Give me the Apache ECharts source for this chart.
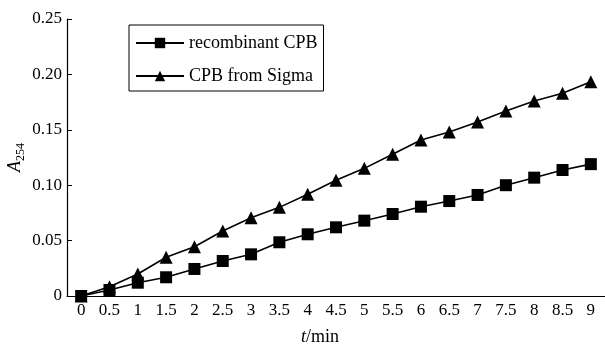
<!DOCTYPE html>
<html>
<head>
<meta charset="utf-8">
<script src="https://cdn.jsdelivr.net/npm/echarts@6/dist/echarts.min.js"></script>
<style>html,body{margin:0;padding:0;background:#fff;}#c{width:605px;height:344px;}</style>
</head>
<body>
<div id="c"></div>
<script>
const categories = ['0','0.5','1','1.5','2','2.5','3','3.5','4','4.5','5','5.5','6','6.5','7','7.5','8','8.5','9'];
const recombinant = [0, 0.0054, 0.012, 0.0169, 0.0244, 0.0316, 0.0376, 0.0485, 0.0557, 0.062, 0.068, 0.074, 0.0806, 0.0857, 0.0912, 0.100, 0.1068, 0.1137, 0.119];
const sigma = [0, 0.0084, 0.0199, 0.035, 0.0445, 0.0587, 0.0707, 0.080, 0.0918, 0.1045, 0.1152, 0.128, 0.1408, 0.148, 0.157, 0.167, 0.176, 0.183, 0.1934];
const yTicks = [0, 0.05, 0.10, 0.15, 0.20, 0.25];
const seriesNames = ['recombinant CPB', 'CPB from Sigma'];

const FONT = "'Liberation Serif','Times New Roman',serif";
const chart = echarts.init(document.getElementById('c'), null, {renderer: 'canvas'});
chart.setOption({
  animation: false,
  backgroundColor: '#fff',
  textStyle: {fontFamily: FONT, color: '#000'},
  grid: {left: 67, right: 0, top: 19, bottom: 48, containLabel: false, outerBoundsMode: 'none'},
  legend: {
    orient: 'vertical',
    left: 129, top: 25,
    padding: [8, 6, 5, 6],
    borderColor: '#000', borderWidth: 1,
    itemWidth: 48, itemHeight: 13, itemGap: 13,
    textStyle: {fontFamily: FONT, fontSize: 18, color: '#000', lineHeight: 20},
    data: seriesNames
  },
  xAxis: {
    type: 'category',
    data: categories,
    boundaryGap: true,
    name: '{i|t}/min',
    nameLocation: 'middle',
    nameGap: 32,
    nameMoveOverlap: false,
    nameTextStyle: {fontFamily: FONT, fontSize: 18, color: '#000', padding: [0, 32, 0, 0],
      rich: {i: {fontStyle: 'italic', fontFamily: FONT, fontSize: 18}}},
    axisLine: {lineStyle: {color: '#000', width: 1.2}},
    axisTick: {inside: true, length: 5, lineStyle: {color: '#000'}},
    axisLabel: {color: '#000', fontFamily: FONT, fontSize: 17, margin: 6, interval: 0},
    splitLine: {show: false}
  },
  yAxis: {
    type: 'value',
    min: 0, max: 0.25, interval: 0.05,
    name: '{a|A}{s|254}',
    nameLocation: 'middle',
    nameRotate: 90,
    nameGap: 40,
    nameMoveOverlap: false,
    nameTextStyle: {fontFamily: FONT, color: '#000',
      rich: {
        a: {fontStyle: 'italic', fontFamily: FONT, fontSize: 18, lineHeight: 24, verticalAlign: 'middle'},
        s: {fontFamily: FONT, fontSize: 12, lineHeight: 12, verticalAlign: 'bottom'}
      }},
    axisLine: {show: true, lineStyle: {color: '#000', width: 1.2}},
    axisTick: {show: true, inside: true, length: 5, lineStyle: {color: '#000'}},
    axisLabel: {color: '#000', fontFamily: FONT, fontSize: 17, margin: 5,
      formatter: v => (v === 0 ? '0' : v.toFixed(2))},
    splitLine: {show: false}
  },
  series: [
    {
      name: seriesNames[0], type: 'line', data: recombinant,
      symbol: 'rect', symbolSize: 12,
      lineStyle: {color: '#000', width: 1.6},
      itemStyle: {color: '#000'}
    },
    {
      name: seriesNames[1], type: 'line', data: sigma,
      symbol: 'triangle', symbolSize: 13,
      lineStyle: {color: '#000', width: 1.6},
      itemStyle: {color: '#000'}
    }
  ]
});
</script>
</body>
</html>
